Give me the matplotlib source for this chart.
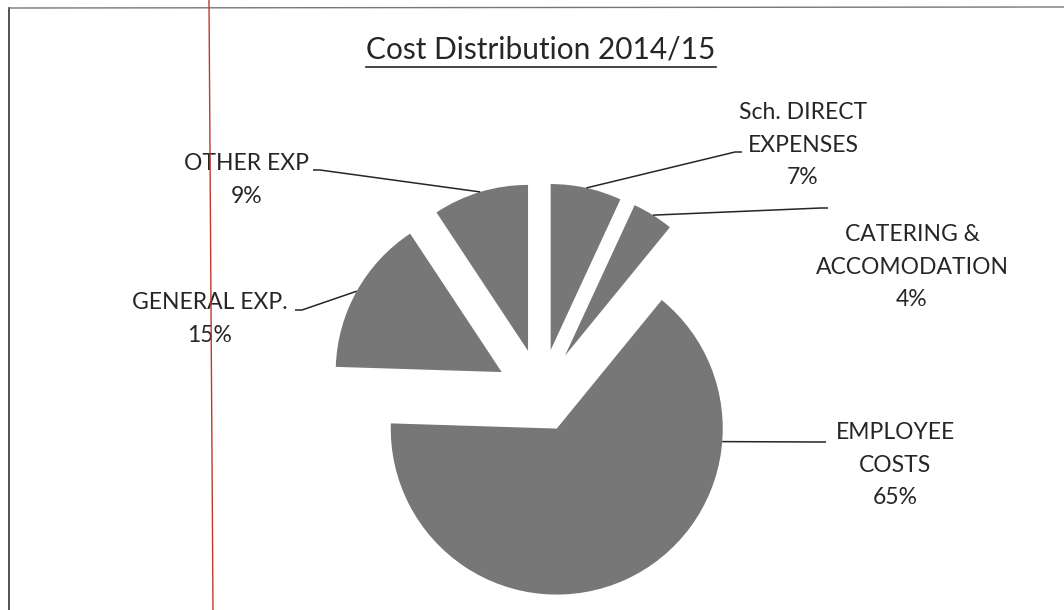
import numpy as np
import matplotlib
matplotlib.use("Agg")
import matplotlib.pyplot as plt
from matplotlib.lines import Line2D

plt.rcParams['font.family'] = ['Lato', 'DejaVu Sans']

# data (labels show the rounded shares)
categories = ["Sch. DIRECT\nEXPENSES", "CATERING &\nACCOMODATION", "EMPLOYEE\nCOSTS",
              "GENERAL EXP.", "OTHER EXP"]
shares = [6.9, 4.0, 64.6, 15.2, 9.3]
title = "Cost Distribution 2014/15"

# layout (pixel units, y measured downwards from the top)
W, H = 1064, 610
cx, cy, R = 541, 394, 166
explode = [45, 45, 38, 45, 45]      # pie() takes explode in data units, not radii
label_pos = [(803, 145), (912, 267), (895, 465), (210, 319), (247, 180)]
leader_from = [(742, 152), (828, 208), (826, 442), (295, 310), (313, 170)]
attach_angle = [None, None, -4.5, None, None]   # None -> middle of wedge
ink = "#262626"
grey = "#777777"

fig = plt.figure(figsize=(W / 100, H / 100), dpi=100)
ax = fig.add_axes([0, 0, 1, 1])

wedges, _ = ax.pie(shares, startangle=90, counterclock=False, explode=explode,
                   center=(cx, -cy), radius=R, colors=[grey] * 5,
                   wedgeprops=dict(linewidth=0))
# pie() resets the limits, so set them afterwards
ax.set_xlim(0, W)
ax.set_ylim(-H, 0)
ax.set_aspect("equal")
ax.axis("off")

for i, w in enumerate(wedges):
    ang = attach_angle[i] if attach_angle[i] is not None else (w.theta1 + w.theta2) / 2
    wx, wy = w.center
    px = wx + R * np.cos(np.radians(ang))
    py = wy + R * np.sin(np.radians(ang))
    tx, ty = leader_from[i]
    stub = 7 if tx < cx else -7
    ax.plot([tx, tx + stub, px], [-ty, -ty, py], color=ink, lw=1.1,
            solid_capstyle="butt")
    lx, ly = label_pos[i]
    ax.text(lx, -ly, f"{categories[i]}\n{shares[i]:.0f}%", ha="center", va="center",
            fontsize=16.5, color=ink, linespacing=1.68)

t = ax.text(541, -50, title, ha="center", va="center", fontsize=21.5, color=ink)

fig.canvas.draw()
bb = t.get_window_extent()
uy = bb.y0 - 3
fig.add_artist(Line2D([bb.x0 / W, bb.x1 / W], [uy / H, uy / H], color=ink, lw=1.2))

# scan frame and red margin line
fig.add_artist(Line2D([9 / W, 9 / W], [0, 1 - 8 / H], color="#333333", lw=1.2))
fig.add_artist(Line2D([9 / W, 1], [1 - 8 / H, 1 - 7 / H], color="#777777", lw=1.0))
fig.add_artist(Line2D([209 / W, 213 / W], [1, 0], color="#c0392b", lw=1.0))

fig.savefig("out.png", dpi=100)
